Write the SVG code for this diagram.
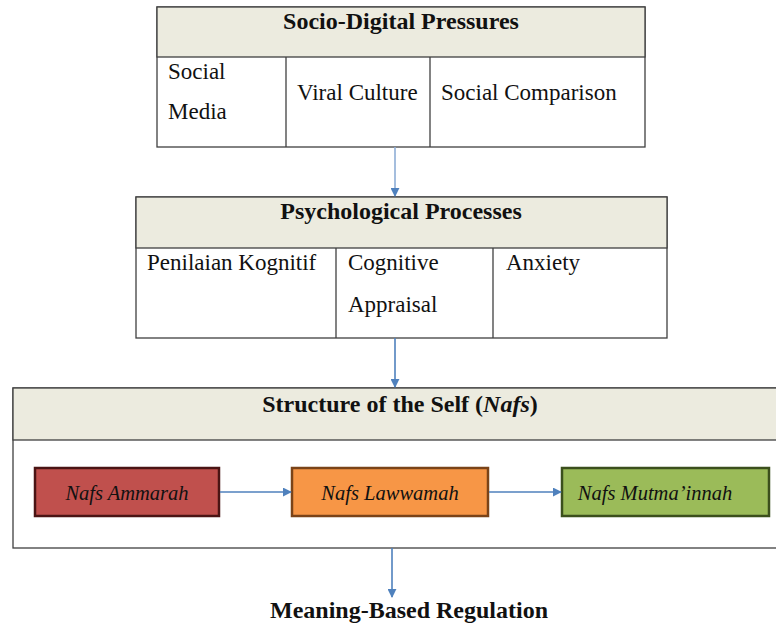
<svg xmlns="http://www.w3.org/2000/svg" width="776" height="628" viewBox="0 0 776 628">
<defs>
<style>
.frame{fill:#fff;stroke:#404040;stroke-width:1.3}
.head{fill:#ecebdf;stroke:#404040;stroke-width:1.3}
.div{stroke:#404040;stroke-width:1.3}
.ht{font-family:"Liberation Serif",serif;font-weight:bold;font-size:24px;fill:#111;text-anchor:middle}
.ct{font-family:"Liberation Serif",serif;font-size:23px;fill:#111}
.nt{font-family:"Liberation Serif",serif;font-style:italic;font-size:20.5px;fill:#111;text-anchor:middle}
.conn{stroke:#4f81bd;stroke-width:1.6;fill:none}
</style>
<marker id="ah" viewBox="0 0 10 10" refX="9" refY="5" markerWidth="9" markerHeight="9" markerUnits="userSpaceOnUse" orient="auto">
<path d="M0,0 L10,5 L0,10 z" fill="#4f81bd"/>
</marker>
</defs>
<rect width="776" height="628" fill="#fff"/>
<g id="socio-digital">
<rect class="frame" x="157" y="7" width="488" height="140"/>
<rect class="head" x="157" y="7" width="488" height="50"/>
<line class="div" x1="286" y1="57" x2="286" y2="147"/>
<line class="div" x1="430" y1="57" x2="430" y2="147"/>
<text class="ht" x="401" y="29">Socio-Digital Pressures</text>
<text class="ct" x="168" y="79">Social</text>
<text class="ct" x="168" y="119">Media</text>
<text class="ct" x="297" y="100">Viral Culture</text>
<text class="ct" x="441" y="100">Social Comparison</text>
</g>
<g id="psychological">
<rect class="frame" x="136" y="197" width="531" height="141"/>
<rect class="head" x="136" y="197" width="531" height="51"/>
<line class="div" x1="336" y1="248" x2="336" y2="338"/>
<line class="div" x1="493" y1="248" x2="493" y2="338"/>
<text class="ht" x="401" y="219">Psychological Processes</text>
<text class="ct" x="147" y="270">Penilaian Kognitif</text>
<text class="ct" x="348" y="270">Cognitive</text>
<text class="ct" x="348" y="312">Appraisal</text>
<text class="ct" x="506" y="270">Anxiety</text>
</g>
<g id="structure">
<rect class="frame" x="13" y="388" width="770" height="160"/>
<rect class="head" x="13" y="388" width="770" height="52"/>
<text class="ht" x="400" y="412">Structure of the Self (<tspan font-style="italic">Nafs</tspan>)</text>
</g>
<g id="ammarah">
<rect x="35" y="468" width="184" height="48" fill="#c0504d" stroke="#4a1414" stroke-width="2.5"/>
<text class="nt" x="127" y="500">Nafs Ammarah</text>
</g>
<g id="lawwamah">
<rect x="292" y="468" width="196" height="48" fill="#f79646" stroke="#7a4318" stroke-width="2.5"/>
<text class="nt" x="390" y="500">Nafs Lawwamah</text>
</g>
<g id="mutmainnah">
<rect x="562" y="468" width="207" height="48" fill="#9bbb59" stroke="#3b4f1c" stroke-width="2.5"/>
<text class="nt" x="655" y="500">Nafs Mutma’innah</text>
</g>
<g id="meaning">
<text class="ht" x="409" y="618">Meaning-Based Regulation</text>
</g>
<g id="connectors">
<line class="conn" x1="395" y1="147" x2="395" y2="196" marker-end="url(#ah)" stroke="#8fb0d8" style="stroke:#8faed6"/>
<line class="conn" x1="395" y1="338" x2="395" y2="387" marker-end="url(#ah)"/>
<line class="conn" x1="220" y1="492" x2="291" y2="492" marker-end="url(#ah)"/>
<line class="conn" x1="489" y1="492" x2="561" y2="492" marker-end="url(#ah)"/>
<line class="conn" x1="392" y1="548" x2="392" y2="597" marker-end="url(#ah)"/>
</g>
</svg>
